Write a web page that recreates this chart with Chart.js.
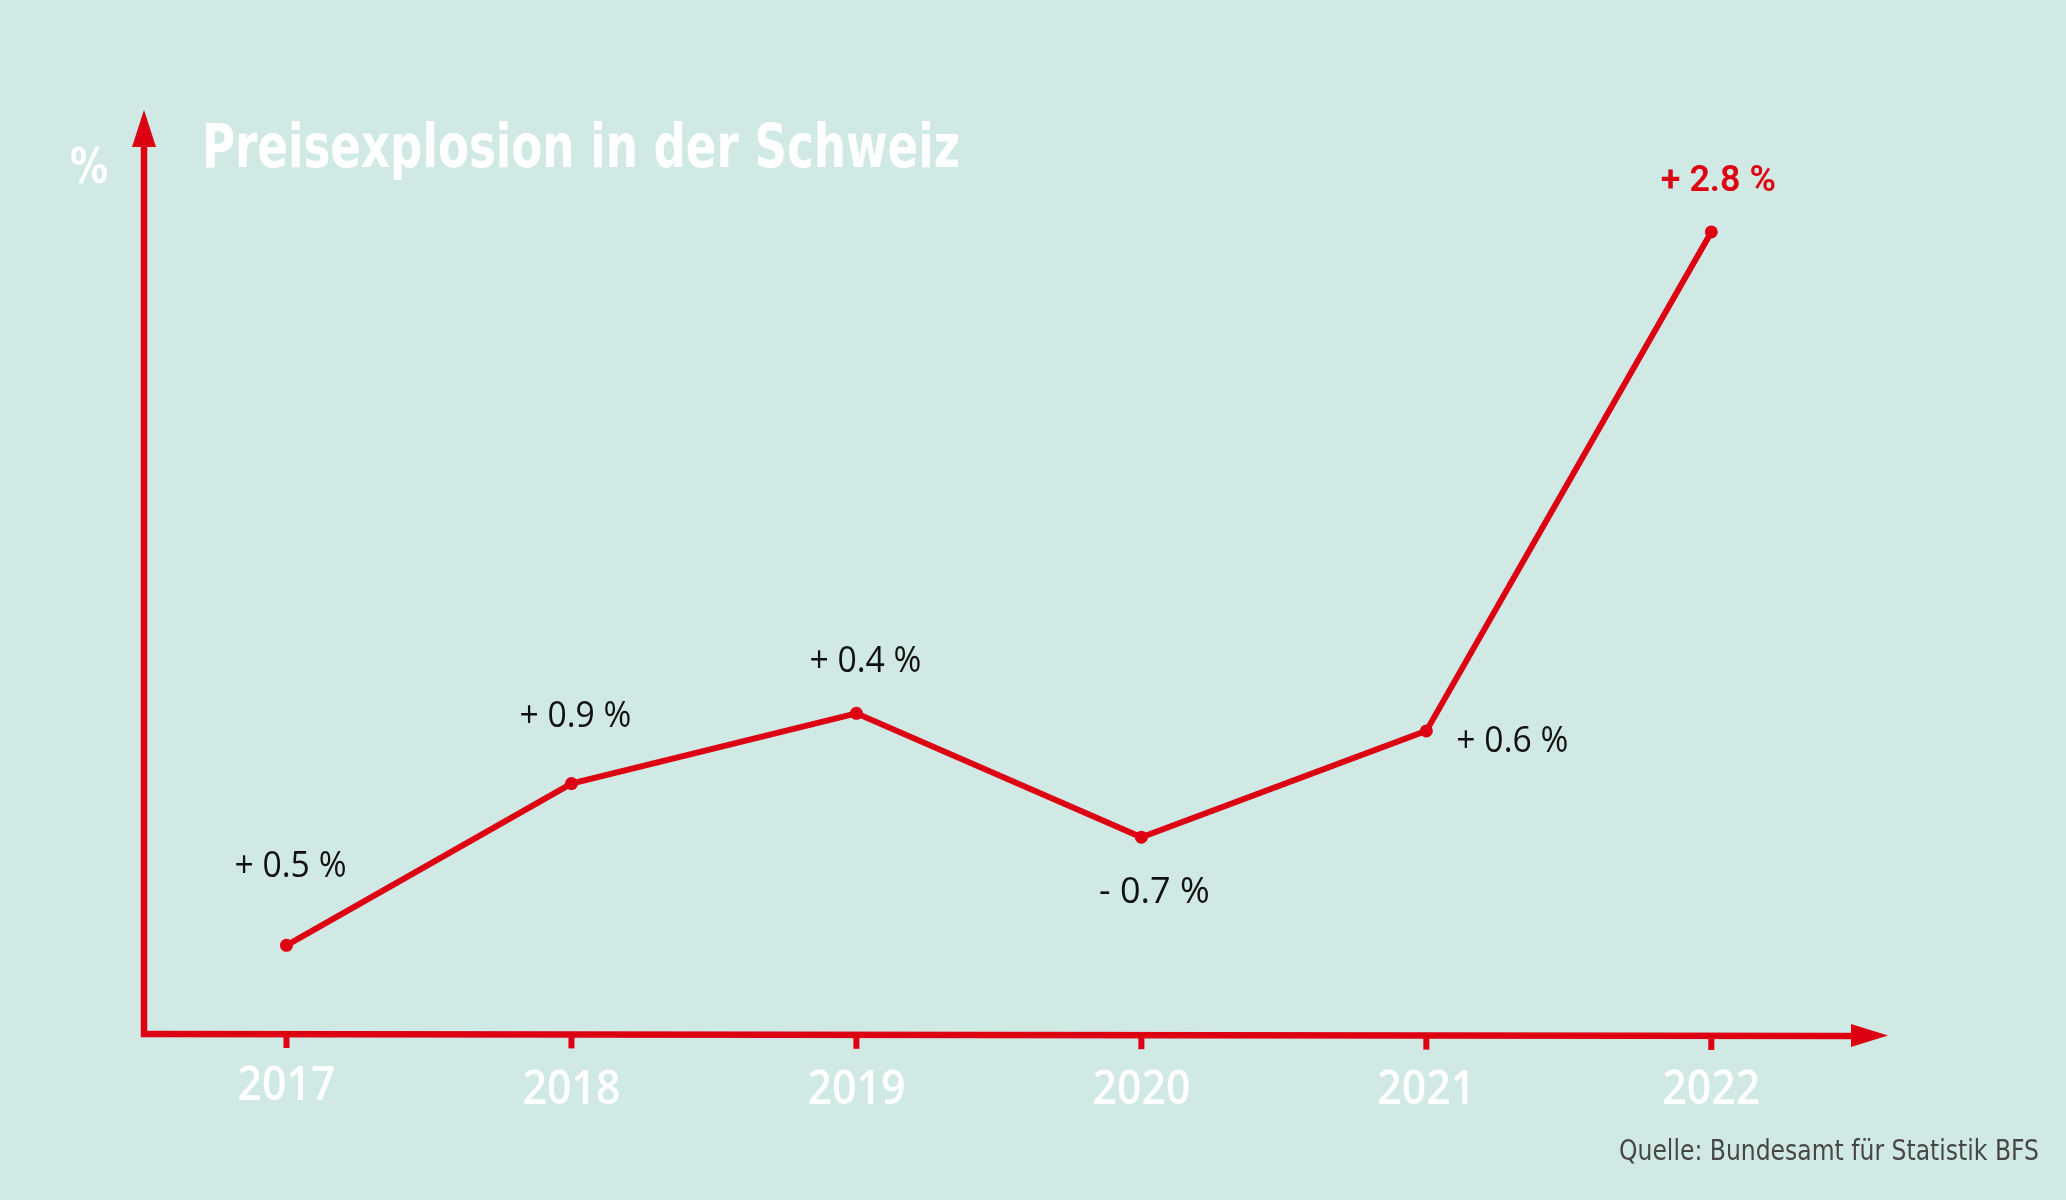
<!DOCTYPE html>
<html lang="de">
<head>
<meta charset="utf-8">
<title>Preisexplosion in der Schweiz</title>
<script src="https://cdn.jsdelivr.net/npm/chart.js@4.4.1/dist/chart.umd.min.js"></script>
<style>
  html, body { margin: 0; padding: 0; overflow: hidden; background: #d1e9e4; }
  canvas { display: block; }
</style>
</head>
<body>
<canvas id="chart" width="2066" height="1200"></canvas>
<script>
  // Data
  const years = [2017, 2018, 2019, 2020, 2021, 2022];
  // height of each point above the x axis, in % of the axis height (the drawing is not to scale)
  const heights = [9.6, 27.1, 34.7, 21.3, 32.8, 86.8];
  const valueLabels = ['+ 0.5 %', '+ 0.9 %', '+ 0.4 %', '- 0.7 %', '+ 0.6 %', '+ 2.8 %'];

  const title = 'Preisexplosion in der Schweiz';
  const unit = '%';
  const source = 'Quelle: Bundesamt für Statistik BFS';

  // Look
  const RED = '#dc0012';
  const BG = '#d1e9e4';
  // where each value label sits relative to its point: [dx, dy, align]
  const labelPlace = [
    [4, -68, 'center'], [4, -57, 'center'], [9, -41, 'center'],
    [13, 66, 'center'], [30, 21, 'left'], [7, -41, 'center']
  ];

  const decor = {
    id: 'decor',
    beforeDraw(chart){
      const ctx = chart.ctx;
      ctx.save();
      ctx.fillStyle = BG;
      ctx.fillRect(0, 0, chart.width, chart.height);
      ctx.restore();
    },
    beforeDatasetsDraw(chart){
      const ctx = chart.ctx, a = chart.chartArea, xs = chart.scales.x;
      ctx.save();
      ctx.strokeStyle = RED; ctx.fillStyle = RED;
      ctx.lineWidth = 6.5; ctx.lineCap = 'butt';
      // y axis
      ctx.beginPath(); ctx.moveTo(a.left, a.bottom + 3); ctx.lineTo(a.left, a.top + 36); ctx.stroke();
      ctx.beginPath(); ctx.moveTo(a.left, a.top); ctx.lineTo(a.left - 12, a.top + 37); ctx.lineTo(a.left + 12, a.top + 37); ctx.closePath(); ctx.fill();
      // x axis
      ctx.beginPath(); ctx.moveTo(a.left - 3, a.bottom); ctx.lineTo(a.right - 34, a.bottom + 2); ctx.stroke();
      ctx.beginPath(); ctx.moveTo(a.right, a.bottom + 1.5); ctx.lineTo(a.right - 37, a.bottom - 10); ctx.lineTo(a.right - 37, a.bottom + 13); ctx.closePath(); ctx.fill();
      // ticks + year labels
      ctx.font = '600 47px "Open Sans", "DejaVu Sans Condensed", sans-serif';
      ctx.textAlign = 'center'; ctx.textBaseline = 'alphabetic';
      years.forEach((yr, i) => {
        const px = xs.getPixelForValue(yr);
        const dy = i * 0.4;
        ctx.fillStyle = RED;
        ctx.fillRect(px - 3, a.bottom + dy, 6, 14);
        ctx.fillStyle = '#ffffff';
        ctx.fillText(String(yr), px, i === 0 ? 1100 : 1104, 98);
      });
      ctx.restore();
    },
    afterDraw(chart){
      const ctx = chart.ctx;
      const meta = chart.getDatasetMeta(0);
      ctx.save();
      // title and unit
      ctx.fillStyle = '#ffffff';
      ctx.textAlign = 'left'; ctx.textBaseline = 'alphabetic';
      ctx.font = 'bold 60px "DejaVu Sans Condensed", "DejaVu Sans", sans-serif';
      ctx.fillText(title, 202, 167, 758);
      ctx.font = 'bold 49px "DejaVu Sans Condensed", "DejaVu Sans", sans-serif';
      ctx.fillText(unit, 70, 183, 38);
      // value labels
      meta.data.forEach((pt, i) => {
        const [dx, dy, align] = labelPlace[i];
        const last = i === meta.data.length - 1;
        ctx.fillStyle = last ? RED : '#111111';
        ctx.font = last ? '600 36px Roboto, "Open Sans", sans-serif' : '500 36px "Open Sans", sans-serif';
        ctx.textAlign = align;
        ctx.fillText(valueLabels[i], pt.x + dx, pt.y + dy, last ? 115 : 112);
      });
      // source
      ctx.fillStyle = '#474747';
      ctx.textAlign = 'right';
      ctx.font = '29px "DejaVu Sans Condensed", "DejaVu Sans", sans-serif';
      ctx.fillText(source, 2039, 1160, 420);
      ctx.restore();
    }
  };

  new Chart(document.getElementById('chart').getContext('2d'), {
    type: 'line',
    data: {
      datasets: [{
        data: years.map((yr, i) => ({ x: yr, y: heights[i] })),
        borderColor: RED,
        backgroundColor: RED,
        borderWidth: 6,
        pointRadius: 6.5,
        pointBorderWidth: 0,
        pointBackgroundColor: RED,
        tension: 0,
        clip: false
      }]
    },
    options: {
      responsive: false,
      devicePixelRatio: 1,
      animation: false,
      layout: { padding: { left: 144, right: 178, top: 110, bottom: 166 } },
      plugins: { legend: { display: false }, tooltip: { enabled: false } },
      scales: {
        x: { type: 'linear', min: 2016.5, max: 2022.62, display: false },
        y: { min: 0, max: 100, display: false }
      }
    },
    plugins: [decor]
  });
</script>
</body>
</html>
